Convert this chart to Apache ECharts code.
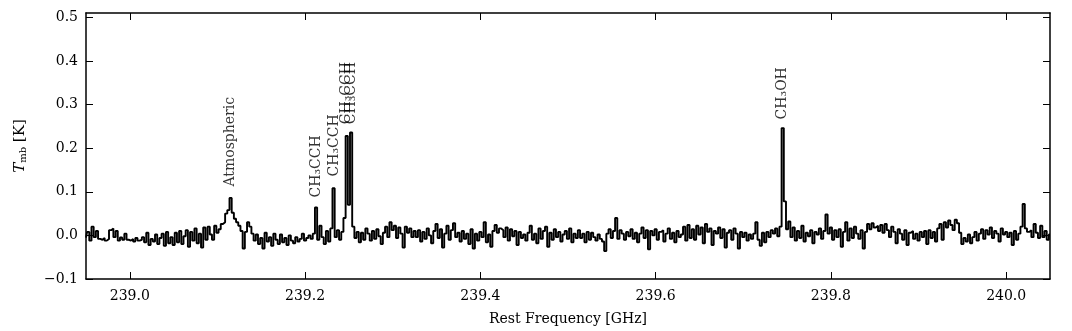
<!DOCTYPE html>
<html>
<head>
<meta charset="utf-8">
<script src="https://cdn.jsdelivr.net/npm/echarts@6/dist/echarts.min.js"></script>
<style>
  html, body { margin: 0; padding: 0; background: #fff; }
  #myChart { width: 1072px; height: 331px; }
</style>
</head>
<body>
<div id="myChart"></div>
<script>
// spectrum: first channel frequency and channel width (GHz)
const freqStart = 238.95;
const chanWidth = 0.0025;

// T_mb [K] per channel
const tmb = [
  -0.005, 0.008, -0.012, 0.020, -0.004, 0.010, -0.008, -0.010, -0.006, -0.012,
  -0.008, 0.012, 0.016, -0.004, 0.010, -0.012, -0.005, -0.010, 0.004, -0.010,
  -0.012, -0.008, -0.014, -0.006, -0.012, -0.010, -0.004, -0.016, 0.006, -0.022,
  -0.008, -0.014, 0.002, -0.020, -0.006, 0.004, -0.024, 0.008, -0.018, -0.004,
  -0.022, 0.006, -0.016, 0.010, -0.020, -0.002, 0.012, -0.026, 0.008, -0.012,
  0.016, -0.018, 0.004, -0.028, 0.018, -0.010, 0.020, 0.002, -0.010, 0.022,
  0.006, 0.014, 0.026, 0.030, 0.050, 0.058, 0.086, 0.052, 0.038, 0.030,
  0.022, 0.010, -0.030, 0.008, 0.030, 0.020, 0.004, -0.012, 0.002, -0.020,
  -0.006, -0.030, 0.006, -0.014, -0.004, -0.024, 0.004, -0.010, -0.020, 0.002,
  -0.016, -0.006, -0.022, 0.000, -0.012, -0.018, -0.004, -0.014, -0.008, 0.004,
  -0.012, -0.006, 0.000, -0.008, 0.004, 0.064, -0.010, 0.022, -0.004, -0.020,
  0.010, -0.014, 0.016, 0.108, -0.004, 0.012, -0.010, 0.008, 0.040, 0.228,
  0.070, 0.236, 0.020, -0.006, 0.008, -0.016, 0.006, -0.010, 0.016, 0.004,
  -0.012, 0.010, -0.008, 0.014, -0.002, -0.020, 0.006, 0.020, -0.004, 0.030,
  0.012, 0.022, -0.006, 0.018, 0.004, -0.028, 0.020, 0.006, 0.016, -0.004,
  0.010, -0.004, 0.012, -0.014, 0.008, -0.008, 0.016, 0.000, -0.018, 0.010,
  0.026, -0.006, 0.014, -0.028, 0.004, 0.022, -0.010, 0.012, 0.028, -0.004,
  0.006, -0.014, 0.010, -0.008, 0.004, -0.020, 0.014, -0.030, 0.004, -0.012,
  0.008, -0.004, 0.030, -0.016, 0.002, -0.026, 0.010, 0.024, 0.006, 0.016,
  0.012, -0.004, 0.018, -0.012, 0.014, -0.002, 0.010, -0.022, 0.008, -0.006,
  0.002, -0.012, 0.006, 0.022, -0.010, 0.004, -0.018, 0.016, -0.008, 0.010,
  0.020, -0.026, 0.006, -0.010, 0.014, -0.004, 0.008, -0.014, 0.002, 0.010,
  -0.008, 0.016, -0.016, 0.004, -0.006, 0.012, -0.006, 0.004, -0.016, 0.008,
  -0.010, 0.006, -0.004, -0.012, 0.002, -0.008, -0.014, -0.036, 0.004, 0.014,
  -0.006, 0.010, 0.040, -0.008, 0.012, 0.004, -0.010, 0.008, -0.002, 0.014,
  -0.008, 0.006, -0.016, 0.004, 0.018, -0.006, 0.012, -0.032, 0.010, 0.000,
  0.014, -0.010, 0.008, 0.012, -0.014, 0.004, 0.016, -0.008, 0.006, -0.016,
  0.010, -0.004, 0.002, 0.020, -0.012, 0.024, -0.006, 0.014, -0.010, 0.022,
  0.002, 0.018, -0.018, 0.026, 0.008, 0.016, -0.022, 0.010, 0.004, 0.018,
  -0.006, 0.014, -0.028, 0.006, 0.012, -0.010, 0.016, 0.004, -0.030, 0.008,
  -0.004, 0.006, -0.012, 0.002, -0.008, 0.004, 0.030, -0.010, -0.024, 0.006,
  -0.016, 0.008, -0.004, 0.012, 0.004, 0.016, -0.002, 0.020, 0.246, 0.078,
  0.014, 0.032, -0.004, 0.018, -0.012, 0.010, -0.006, 0.022, -0.014, 0.006,
  -0.002, 0.012, -0.018, 0.008, 0.002, 0.016, -0.008, 0.010, 0.048, 0.004,
  0.018, -0.010, 0.012, -0.004, 0.014, -0.026, 0.008, 0.030, -0.012, 0.016,
  -0.006, 0.020, 0.004, -0.008, 0.012, -0.030, 0.008, 0.026, 0.014, 0.028,
  0.018, 0.022, 0.010, 0.024, 0.006, 0.026, 0.012, -0.004, 0.020, 0.008,
  -0.018, 0.014, 0.004, -0.010, 0.012, -0.022, 0.006, 0.010, -0.008, 0.004,
  -0.012, 0.008, -0.004, 0.010, -0.020, 0.012, -0.006, 0.008, -0.014, 0.016,
  0.026, -0.010, 0.030, 0.018, 0.034, 0.024, 0.012, 0.036, 0.028, 0.006,
  -0.020, -0.006, -0.014, 0.002, -0.018, -0.004, 0.008, -0.012, 0.004, 0.014,
  -0.008, 0.012, 0.002, 0.018, -0.006, 0.010, 0.004, -0.014, 0.016, 0.002,
  0.008, -0.004, 0.006, -0.022, 0.010, -0.010, 0.004, 0.020, 0.072, 0.016,
  0.008, 0.012, -0.004, 0.026, 0.006, -0.006, 0.022, -0.004, 0.010, -0.010,
  0.002
];

// line identifications: frequency, label base height, text
const lineFreqs = [239.1150, 239.2125, 239.2330, 239.2470, 239.2525, 239.7450];
const lineLabelY = [0.112, 0.087, 0.135, 0.255, 0.255, 0.266];
const lineNames = ["Atmospheric", "CH\u2083CCH", "CH\u2083CCH", "CH\u2083CCH", "CH\u2083CCH", "CH\u2083OH"];

// tick labels
const xTicks = [239.0, 239.2, 239.4, 239.6, 239.8, 240.0];
const yTicks = [-0.1, 0.0, 0.1, 0.2, 0.3, 0.4, 0.5];

const xMin = 238.95, xMax = 240.05;
const yMin = -0.1, yMax = 0.51;

const font = "DejaVu Serif";

let myChart = echarts.init(document.getElementById("myChart"));

let spectrum = tmb.map((v, i) => [freqStart + i * chanWidth, v]);
let labelData = lineFreqs.map((f, i) => [f, lineLabelY[i], lineNames[i]]);

let tickStyle = { show: true, inside: true, length: 7, lineStyle: { color: "#000", width: 1 } };
let lineOpt = { show: true, onZero: false, lineStyle: { color: "#000", width: 1.5 } };

const options = {
  animation: false,
  grid: { left: 86, right: 22, top: 13, bottom: 50, containLabel: false },
  xAxis: [
    {
      type: "value",
      min: xMin,
      max: xMax,
      position: "bottom",
      name: "Rest Frequency [GHz]",
      nameLocation: "middle",
      nameGap: 33,
      nameTextStyle: { fontFamily: font, fontSize: 14, color: "#000" },
      axisLine: lineOpt,
      axisTick: Object.assign({ customValues: xTicks }, tickStyle),
      axisLabel: {
        customValues: xTicks,
        margin: 10,
        fontFamily: font,
        fontSize: 14,
        color: "#000",
        formatter: v => v.toFixed(1)
      },
      splitLine: { show: false }
    },
    {
      type: "value",
      min: xMin,
      max: xMax,
      position: "top",
      axisLine: lineOpt,
      axisTick: Object.assign({ customValues: xTicks }, tickStyle),
      axisLabel: { show: false },
      splitLine: { show: false }
    }
  ],
  yAxis: [
    {
      type: "value",
      min: yMin,
      max: yMax,
      position: "left",
      name: "{t|T}{s|mb}{n| [K]}",
      nameLocation: "middle",
      nameGap: 58,
      nameRotate: 90,
      nameTextStyle: {
        color: "#000",
        rich: {
          t: { fontFamily: font, fontSize: 15, fontStyle: "italic", color: "#000" },
          s: { fontFamily: font, fontSize: 10, color: "#000", verticalAlign: "bottom", padding: [4, 0, 0, 0] },
          n: { fontFamily: font, fontSize: 15, color: "#000" }
        }
      },
      axisLine: lineOpt,
      axisTick: Object.assign({ customValues: yTicks }, tickStyle),
      axisLabel: {
        customValues: yTicks,
        margin: 8,
        fontFamily: font,
        fontSize: 14,
        color: "#000",
        formatter: v => v.toFixed(1).replace("-", "\u2212")
      },
      splitLine: { show: false }
    },
    {
      type: "value",
      min: yMin,
      max: yMax,
      position: "right",
      axisLine: lineOpt,
      axisTick: Object.assign({ customValues: yTicks }, tickStyle),
      axisLabel: { show: false },
      splitLine: { show: false }
    }
  ],
  series: [
    {
      name: "spectrum",
      type: "line",
      xAxisIndex: 0,
      yAxisIndex: 0,
      data: spectrum,
      step: "middle",
      symbol: "none",
      silent: true,
      lineStyle: { color: "#000", width: 1.9 }
    },
    {
      name: "lines",
      type: "scatter",
      xAxisIndex: 0,
      yAxisIndex: 0,
      data: labelData,
      symbolSize: 0,
      silent: true,
      label: {
        show: true,
        position: [0, 0],
        rotate: 90,
        align: "left",
        verticalAlign: "middle",
        fontFamily: font,
        fontSize: 14,
        color: "#000",
        formatter: p => p.data[2]
      }
    }
  ]
};

myChart.setOption(options);
</script>
</body>
</html>
